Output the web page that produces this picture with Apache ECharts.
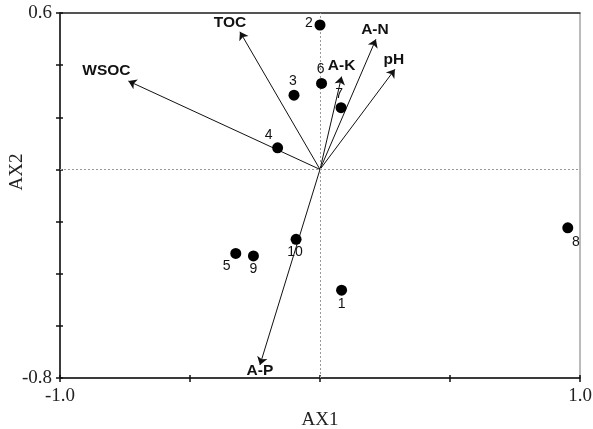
<!DOCTYPE html>
<html>
<head>
<meta charset="utf-8">
<script src="https://cdn.jsdelivr.net/npm/echarts@6/dist/echarts.min.js"></script>
<style>html,body{margin:0;padding:0;background:#fff;}#c{width:593px;height:429px;}</style>
</head>
<body>
<div id="c"></div>
<script>
// Site scores
var siteNames = ['1','2','3','4','5','6','7','8','9','10'];
var siteX = [0.083, 0.000, -0.100, -0.163, -0.324, 0.006, 0.081, 0.953, -0.256, -0.092];
var siteY = [-0.463, 0.554, 0.285, 0.083, -0.322, 0.330, 0.237, -0.224, -0.332, -0.268];
// Environmental variable vectors
var varNames = ['TOC', 'WSOC', 'A-N', 'pH', 'A-K', 'A-P'];
var varX = [-0.308, -0.737, 0.215, 0.288, 0.083, -0.231];
var varY = [0.528, 0.339, 0.499, 0.384, 0.356, -0.750];
// Axis settings
var xMin = -1.0, xMax = 1.0, xStep = 0.5;
var yMin = -0.8, yMax = 0.6, yStep = 0.2;
var xTitle = 'AX1', yTitle = 'AX2';

// label offsets (pixels) - styling only
var siteLabelOffset = [[0,14],[-11,-2],[-1,-14],[-9,-13],[-9,13],[-1,-14],[-2,-13],[8,14],[0,13],[-1,13]];
var varLabelOffset = [[-10,-9],[-22,-10],[-1,-10],[-1,-10],[0,-11],[0,6]];

var sitesData = siteNames.map(function(n,i){
  return {name:n, value:[siteX[i], siteY[i]],
    label:{show:true, position:'inside', offset:siteLabelOffset[i], formatter:n}};
});
var arrowData = varNames.map(function(n,i){
  return {coords:[[0,0],[varX[i], varY[i]]]};
});
var varLabelData = varNames.map(function(n,i){
  return {name:n, value:[varX[i], varY[i]],
    label:{show:true, position:'inside', offset:varLabelOffset[i], formatter:n}};
});

var serif = 'Liberation Serif';
var sans = 'Liberation Sans';

var chart = echarts.init(document.getElementById('c'));
chart.setOption({
  animation:false,
  backgroundColor:'#fff',
  grid:{left:60, right:13, top:13, bottom:51, containLabel:false, outerBoundsMode:'none',
        show:true, borderColor:'#777', borderWidth:1},
  graphic:[{
    type:'text', x:17, y:172, rotation:Math.PI/2,
    style:{text:yTitle, fontFamily:serif, fontSize:19, fill:'#222',
      align:'center', verticalAlign:'middle'}
  }],
  xAxis:[{
    type:'value', min:xMin, max:xMax, interval:xStep, position:'bottom',
    name:xTitle, nameLocation:'middle', nameGap:31,
    nameTextStyle:{fontFamily:serif, fontSize:19, color:'#222'},
    axisLine:{show:true, onZero:false, lineStyle:{color:'#111', width:1.5}},
    axisTick:{show:true, inside:false, length:4, lineStyle:{color:'#111', width:1.5}},
    axisLabel:{fontFamily:serif, fontSize:19, color:'#222', margin:9,
      formatter:function(v){ return (Math.abs(v-xMin)<1e-9 || Math.abs(v-xMax)<1e-9) ? v.toFixed(1) : ''; }},
    splitLine:{show:false}
  },{
    type:'value', min:xMin, max:xMax, interval:xStep, position:'bottom',
    axisLine:{show:false, onZero:false},
    axisTick:{show:true, inside:true, length:3, lineStyle:{color:'#111', width:1.5}},
    axisLabel:{show:false}, splitLine:{show:false}
  },{
    type:'value', min:xMin, max:xMax, position:'top',
    axisLine:{show:true, onZero:false, lineStyle:{color:'#333', width:1.5}},
    axisTick:{show:false}, axisLabel:{show:false}, splitLine:{show:false}
  }],
  yAxis:[{
    type:'value', min:yMin, max:yMax, interval:yStep, position:'left',
    axisLine:{show:true, onZero:false, lineStyle:{color:'#111', width:1.5}},
    axisTick:{show:true, inside:false, length:4, lineStyle:{color:'#111', width:1.5}},
    axisLabel:{fontFamily:serif, fontSize:19, color:'#222', margin:8,
      formatter:function(v){ return (Math.abs(v-yMin)<1e-9 || Math.abs(v-yMax)<1e-9) ? v.toFixed(1) : ''; }},
    splitLine:{show:false}
  },{
    type:'value', min:yMin, max:yMax, interval:yStep, position:'left',
    axisLine:{show:false, onZero:false},
    axisTick:{show:true, inside:true, length:3, lineStyle:{color:'#111', width:1.5}},
    axisLabel:{show:false}, splitLine:{show:false}
  }],
  series:[
    {
      type:'scatter', xAxisIndex:0, yAxisIndex:0, symbolSize:0, data:[],
      markLine:{silent:true, symbol:'none', label:{show:false},
        lineStyle:{color:'#999', type:[2,2], width:1},
        data:[{xAxis:0},{yAxis:0}]}
    },
    {
      type:'lines', coordinateSystem:'cartesian2d', xAxisIndex:0, yAxisIndex:0,
      symbol:['none','arrow'], symbolSize:[0,8],
      lineStyle:{color:'#111', width:1, opacity:1},
      data:arrowData, z:3
    },
    {
      type:'scatter', xAxisIndex:0, yAxisIndex:0, symbolSize:1,
      itemStyle:{color:'rgba(0,0,0,0)', opacity:1},
      label:{fontFamily:sans, fontWeight:'bold', fontSize:15.5, color:'#111'},
      data:varLabelData, z:4
    },
    {
      type:'scatter', xAxisIndex:0, yAxisIndex:0, symbol:'circle', symbolSize:11,
      itemStyle:{color:'#000', opacity:1},
      label:{fontFamily:sans, fontSize:14, color:'#111'},
      data:sitesData, z:5
    }
  ]
});
</script>
</body>
</html>
